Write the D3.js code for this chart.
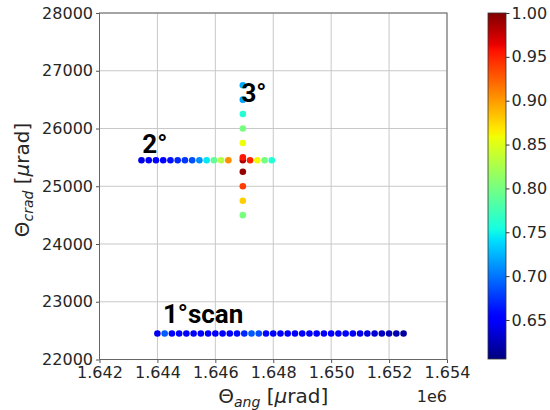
<!DOCTYPE html>
<html>
<head>
<meta charset="utf-8">
<script src="https://cdn.jsdelivr.net/npm/d3@7"></script>
<style>
  body { margin: 0; background: #fff; }
  text { font-family: "DejaVu Sans", sans-serif; }
</style>
</head>
<body>
<svg id="chart" width="550" height="410"></svg>
<script>
// Axis ticks
const xTicks = [1642000, 1644000, 1646000, 1648000, 1650000, 1652000, 1654000];
const yTicks = [22000, 23000, 24000, 25000, 26000, 27000, 28000];
const cbarTicks = [0.65, 0.70, 0.75, 0.80, 0.85, 0.90, 0.95, 1.00];
const colorMin = 0.6055, colorMax = 1.0;

// 2° scan: horizontal scan along theta_ang
const scan2X = [1643450, 1643700, 1643950, 1644200, 1644450, 1644700, 1644950, 1645200,
                1645450, 1645700, 1645950, 1646200, 1646450, 1646950, 1647200, 1647450,
                1647700, 1647950];
const scan2Y = 25450;
const scan2Val = [0.64, 0.645, 0.65, 0.655, 0.66, 0.67, 0.675, 0.685,
                  0.71, 0.745, 0.79, 0.83, 0.905, 0.985, 0.95, 0.86,
                  0.80, 0.76];

// 3° scan: vertical scan along theta_crad
const scan3X = 1646950;
const scan3Y = [24500, 24750, 25000, 25250, 25500, 25750, 26000, 26250, 26500, 26750];
const scan3Val = [0.80, 0.878, 0.94, 0.993, 0.955, 0.858, 0.80, 0.76, 0.717, 0.72];

// 1° scan: long horizontal scan
const scan1X = [1644000, 1644250, 1644500, 1644750, 1645000, 1645250, 1645500, 1645750,
                1646000, 1646250, 1646500, 1646750, 1647000, 1647250, 1647500, 1647750,
                1648000, 1648250, 1648500, 1648750, 1649000, 1649250, 1649500, 1649750,
                1650000, 1650250, 1650500, 1650750, 1651000, 1651250, 1651500, 1651750,
                1652000, 1652250, 1652500];
const scan1Y = 22450;
const scan1Val = [0.645, 0.69, 0.652, 0.652, 0.648, 0.652, 0.652, 0.648,
                  0.652, 0.648, 0.652, 0.658, 0.67, 0.69, 0.685, 0.658,
                  0.652, 0.648, 0.652, 0.648, 0.648, 0.652, 0.648, 0.648,
                  0.652, 0.648, 0.648, 0.645, 0.642, 0.638, 0.633, 0.628,
                  0.624, 0.62, 0.617];

// Scan annotations (data coordinates of text start / baseline)
const annoText = ["3°", "2°", "1°scan"];
const annoX = [1646900, 1643480, 1644190];
const annoY = [26465, 25573, 22631];

const svg = d3.select("#chart");
const plot = { left: 99.5, right: 447, top: 13, bottom: 359.5 };
const cbar = { left: 488, right: 506, top: 13, bottom: 359 };

const x = d3.scaleLinear().domain([1642000, 1654000]).range([plot.left, plot.right]);
const y = d3.scaleLinear().domain([22000, 28000]).range([plot.bottom, plot.top]);

// Jet colormap built from per-channel linear scales
const jetR = d3.scaleLinear().domain([0, 0.35, 0.66, 0.89, 1]).range([0, 0, 1, 1, 0.5]).clamp(true);
const jetG = d3.scaleLinear().domain([0, 0.125, 0.375, 0.64, 0.91, 1]).range([0, 0, 1, 1, 0, 0]).clamp(true);
const jetB = d3.scaleLinear().domain([0, 0.11, 0.34, 0.65, 1]).range([0.5, 1, 1, 0, 0]).clamp(true);
const norm = d3.scaleLinear().domain([colorMin, colorMax]).range([0, 1]).clamp(true);
const jet = t => d3.rgb(jetR(t) * 255, jetG(t) * 255, jetB(t) * 255).formatHex();
const color = v => jet(norm(v));

// Grid
const grid = svg.append("g");
grid.selectAll(".gx").data(xTicks).join("line")
  .attr("x1", d => x(d)).attr("x2", d => x(d))
  .attr("y1", plot.top).attr("y2", plot.bottom)
  .attr("stroke", "#c8c8c8").attr("stroke-width", 1);
grid.selectAll(".gy").data(yTicks).join("line")
  .attr("x1", plot.left).attr("x2", plot.right)
  .attr("y1", d => y(d)).attr("y2", d => y(d))
  .attr("stroke", "#c8c8c8").attr("stroke-width", 1);

// Axes
const xAxis = svg.append("g")
  .attr("transform", `translate(0,${plot.bottom})`)
  .call(d3.axisBottom(x).tickValues(xTicks).tickSize(3.5).tickPadding(3.5)
        .tickFormat(d => (d / 1e6).toFixed(3)));
const yAxis = svg.append("g")
  .attr("transform", `translate(${plot.left},0)`)
  .call(d3.axisLeft(y).tickValues(yTicks).tickSize(3.5).tickPadding(3)
        .tickFormat(d3.format("d")));
[xAxis, yAxis].forEach(a => {
  a.select(".domain").remove();
  a.selectAll(".tick line").attr("stroke", "#555");
  a.selectAll(".tick text").attr("fill", "#262626")
    .style("font-family", "DejaVu Sans").style("font-size", "16px");
});

// Plot frame
svg.append("rect")
  .attr("x", plot.left).attr("y", plot.top)
  .attr("width", plot.right - plot.left).attr("height", plot.bottom - plot.top)
  .attr("fill", "none").attr("stroke", "#666").attr("stroke-width", 1);

// Points
const pts = [];
scan2X.forEach((d, i) => pts.push({ x: d, y: scan2Y, v: scan2Val[i] }));
scan3Y.forEach((d, i) => pts.push({ x: scan3X, y: d, v: scan3Val[i] }));
scan1X.forEach((d, i) => pts.push({ x: d, y: scan1Y, v: scan1Val[i] }));

svg.append("g").selectAll("circle").data(pts).join("circle")
  .attr("cx", d => x(d.x)).attr("cy", d => y(d.y))
  .attr("r", 3.3)
  .attr("fill", d => color(d.v));

// Annotations
svg.append("g").selectAll("text").data(annoText).join("text")
  .attr("x", (d, i) => x(annoX[i])).attr("y", (d, i) => y(annoY[i]))
  .style("font-family", "Roboto, sans-serif").style("font-weight", "bold")
  .style("font-size", "26px").attr("fill", "#000")
  .text(d => d);

// Axis labels
const xl = svg.append("text")
  .attr("x", (plot.left + plot.right) / 2).attr("y", 403)
  .attr("text-anchor", "middle").style("font-size", "20px").attr("fill", "#262626");
xl.append("tspan").text("Θ");
xl.append("tspan").attr("dy", 4).style("font-size", "14px").style("font-style", "italic").text("ang");
xl.append("tspan").attr("dy", -4).text(" [");
xl.append("tspan").style("font-style", "italic").text("µ");
xl.append("tspan").text("rad]");

svg.append("text")
  .attr("x", plot.right).attr("y", 402)
  .attr("text-anchor", "end").style("font-size", "16px").attr("fill", "#262626")
  .text("1e6");

const yl = svg.append("text")
  .attr("transform", `translate(29,180) rotate(-90)`)
  .attr("text-anchor", "middle").style("font-size", "20px").attr("fill", "#262626");
yl.append("tspan").text("Θ");
yl.append("tspan").attr("dy", 4).style("font-size", "14px").style("font-style", "italic").text("crad");
yl.append("tspan").attr("dy", -4).text(" [");
yl.append("tspan").style("font-style", "italic").text("µ");
yl.append("tspan").text("rad]");

// Colorbar
const cy = d3.scaleLinear().domain([colorMin, colorMax]).range([cbar.bottom, cbar.top]);
const defs = svg.append("defs");
const grad = defs.append("linearGradient").attr("id", "jetGrad")
  .attr("x1", 0).attr("y1", 1).attr("x2", 0).attr("y2", 0);
d3.range(0, 1.0001, 0.01).forEach(t => {
  grad.append("stop").attr("offset", t).attr("stop-color", jet(t));
});
svg.append("rect")
  .attr("x", cbar.left).attr("y", cbar.top)
  .attr("width", cbar.right - cbar.left).attr("height", cbar.bottom - cbar.top)
  .attr("fill", "url(#jetGrad)").attr("stroke", "#333").attr("stroke-width", 0.8);

const cAxis = svg.append("g")
  .attr("transform", `translate(${cbar.right},0)`)
  .call(d3.axisRight(cy).tickValues(cbarTicks).tickSize(3.5).tickPadding(2)
        .tickFormat(d3.format(".2f")));
cAxis.select(".domain").remove();
cAxis.selectAll(".tick line").attr("stroke", "#333");
cAxis.selectAll(".tick text").attr("fill", "#262626")
  .style("font-family", "DejaVu Sans").style("font-size", "16px");
</script>
</body>
</html>
